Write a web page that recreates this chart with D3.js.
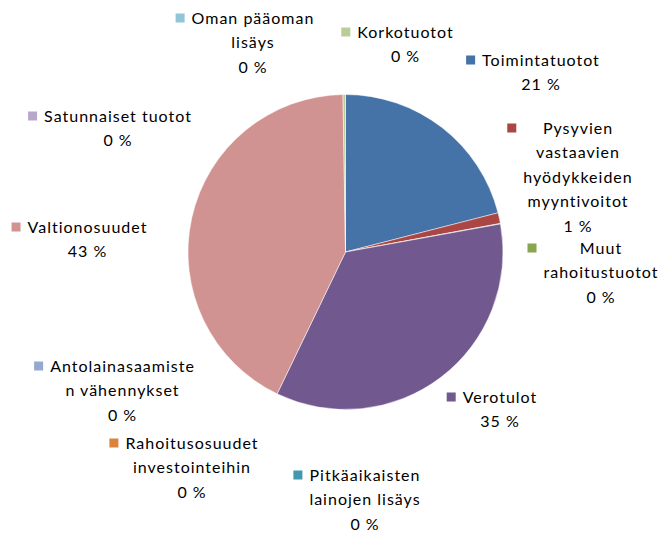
<!DOCTYPE html>
<html>
<head>
<meta charset="utf-8">
<script src="https://cdn.jsdelivr.net/npm/d3@7"></script>
<style>
  body { margin: 0; background: #fff; }
  text { font-family: Lato, "Noto Sans", sans-serif; font-size: 16px; letter-spacing: 1px; fill: #000; }
</style>
</head>
<body>
<script>
const width = 664;
const height = 535;

// slices, clockwise from 12 o'clock
const categories = [
  "Toimintatuotot",
  "Pysyvien\nvastaavien\nhyödykkeiden\nmyyntivoitot",
  "Muut\nrahoitustuotot",
  "Verotulot",
  "Pitkäaikaisten\nlainojen lisäys",
  "Rahoitusosuudet\ninvestointeihin",
  "Antolainasaamiste\nn vähennykset",
  "Valtionosuudet",
  "Satunnaiset tuotot",
  "Oman pääoman\nlisäys",
  "Korkotuotot"
];
const values = [21.0, 1.1, 0.05, 35.0, 0, 0, 0, 42.6, 0, 0, 0.25];
const colors = [
  "#4572a7", "#aa4643", "#89a54e", "#71588f", "#4198af", "#db843d",
  "#93a9cf", "#d19392", "#b9a7c9", "#92c5d8", "#b9cd96"
];

// label text centres (x) and first-line middle (y)
const labelAnchors = [
  [541, 60], [578, 128], [601, 248], [500, 397], [365, 475], [192, 443],
  [122.5, 366], [87.5, 227], [118, 116], [253, 18], [405.5, 32]
];

const cx = 345.5, cy = 252, r = 157.5;
const lineH = 24.5;

let svg = d3
  .select("body")
  .append("svg")
  .attr("width", width)
  .attr("height", height);

let data = categories.map((c, i) => ({ name: c, value: values[i], color: colors[i] }));
let total = d3.sum(values);

let pie = d3.pie().sort(null).value((d) => d.value);
let arc = d3.arc().innerRadius(0).outerRadius(r);

let pieG = svg.append("g").attr("transform", `translate(${cx}, ${cy})`);

pieG
  .selectAll("path")
  .data(pie(data))
  .join("path")
  .attr("d", arc)
  .attr("fill", (d) => d.data.color)
  .attr("stroke", (d) => (d.data.value > 0 ? "#fff" : "none"))
  .attr("stroke-width", 0.5);

let labels = svg
  .selectAll("g.label")
  .data(data)
  .join("g")
  .attr("class", "label");

labels.each(function (d, i) {
  let g = d3.select(this);
  let [ax, ay] = labelAnchors[i];
  let lines = d.name.split("\n");
  lines.push(Math.round((d.value / total) * 100) + " %");

  let maxW = 0;
  lines.forEach((t, k) => {
    let txt = g
      .append("text")
      .attr("x", ax)
      .attr("y", ay + k * lineH)
      .attr("dy", "0.35em")
      .attr("text-anchor", "middle")
      .text(t);
    maxW = Math.max(maxW, txt.node().getComputedTextLength());
  });

  // legend key sits at the left of the block, level with the first line
  let sq = 9;
  g.append("rect")
    .attr("x", ax - maxW / 2 - 16)
    .attr("y", ay - sq / 2)
    .attr("width", sq)
    .attr("height", sq)
    .attr("fill", d.color);
});
</script>
</body>
</html>
